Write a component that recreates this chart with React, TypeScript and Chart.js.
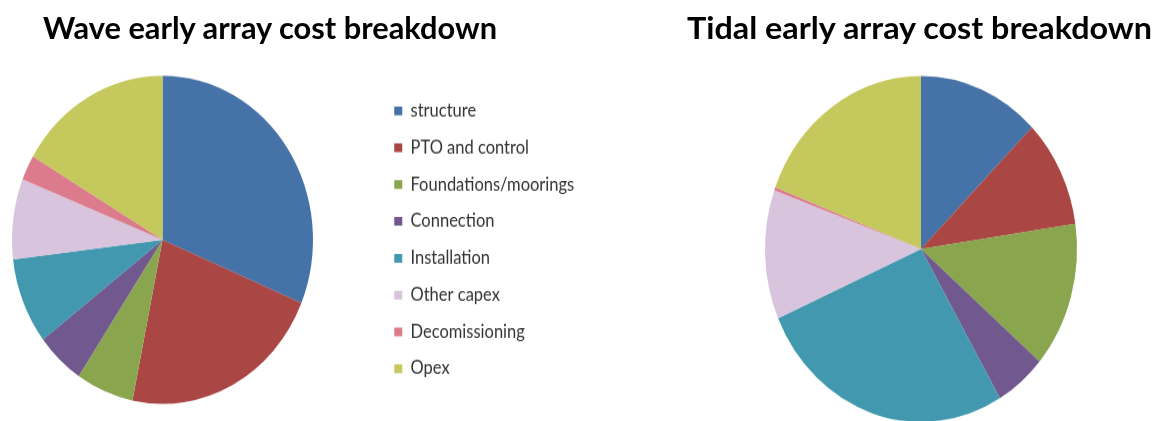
import React, { useEffect, useLayoutEffect, useRef } from 'react';
import { Chart, registerables } from 'chart.js';

Chart.register(...registerables);

const categories = [
  'structure',
  'PTO and control',
  'Foundations/moorings',
  'Connection',
  'Installation',
  'Other capex',
  'Decomissioning',
  'Opex',
];
const waveCost = [31.3, 21.9, 6.2, 5.2, 8.5, 7.9, 2.5, 16.5];
const tidalCost = [12.6, 10.1, 13.6, 5.3, 26.9, 12.1, 0.3, 19.2];
const sliceColors = ['#4572A7', '#AA4643', '#89A54E', '#71588F', '#4198AF', '#D8C4DD', '#DB7B8C', '#C5C85D'];
const waveTitle = 'Wave early array cost breakdown';
const tidalTitle = 'Tidal early array cost breakdown';

const LEGEND_FAMILY = 'Lato, "Open Sans", sans-serif';
const LEGEND_SIZE = 16.5;
const LEGEND_PAD = 17.26;
const LEGEND_BOX = 8;

type TitleProps = { text: string; left: number; top: number; width: number };

function FitTitle({ text, left, top, width }: TitleProps) {
  const ref = useRef<HTMLSpanElement>(null);
  useLayoutEffect(() => {
    const el = ref.current;
    if (!el) return;
    el.style.transform = 'none';
    const w = el.getBoundingClientRect().width;
    if (w > 0) el.style.transform = `scaleX(${width / w})`;
  }, [text, width]);
  return (
    <span
      ref={ref}
      style={{
        position: 'absolute',
        left,
        top,
        whiteSpace: 'nowrap',
        fontFamily: 'Lato, "Open Sans", sans-serif',
        fontWeight: 700,
        fontSize: 30,
        lineHeight: '30px',
        color: '#000',
        transformOrigin: 'left top',
      }}
    >
      {text}
    </span>
  );
}

type PieProps = {
  values: number[];
  left: number;
  width: number;
  height: number;
  stretch: number;
  padTop: number;
  areaRight: number;
  radius: number;
  showLegend: boolean;
};

function PieCanvas({ values, left, width, height, stretch, padTop, areaRight, radius, showLegend }: PieProps) {
  const ref = useRef<HTMLCanvasElement>(null);
  useEffect(() => {
    const canvas = ref.current;
    if (!canvas) return;
    let padRight = 0;
    if (showLegend) {
      const mctx = document.createElement('canvas').getContext('2d')!;
      mctx.font = `normal ${LEGEND_SIZE}px ${LEGEND_FAMILY}`;
      const maxText = Math.max(...categories.map((c) => mctx.measureText(c).width));
      const legendWidth = LEGEND_PAD + LEGEND_BOX + LEGEND_SIZE / 2 + maxText + 10;
      padRight = Math.max(width - areaRight - legendWidth, 0);
    } else {
      padRight = Math.max(width - areaRight, 0);
    }
    const chart = new Chart(canvas, {
      type: 'pie',
      data: {
        labels: categories,
        datasets: [
          {
            data: values,
            backgroundColor: sliceColors,
            borderWidth: 0,
            radius: radius,
          } as any,
        ],
      },
      options: {
        responsive: false,
        animation: false,
        devicePixelRatio: 1,
        layout: { padding: { top: padTop, left: 0, right: padRight, bottom: 0 } },
        plugins: {
          legend: {
            display: showLegend,
            position: 'right',
            align: 'center',
            labels: {
              boxWidth: LEGEND_BOX,
              boxHeight: LEGEND_BOX,
              padding: LEGEND_PAD,
              color: '#333333',
              font: { family: LEGEND_FAMILY, size: LEGEND_SIZE },
            },
          },
          tooltip: { enabled: false },
        },
      } as any,
    });
    return () => chart.destroy();
  }, []);
  return (
    <canvas
      ref={ref}
      width={width}
      height={height}
      style={{
        position: 'absolute',
        left,
        top: 0,
        width,
        height,
        transform: `scaleY(${stretch})`,
        transformOrigin: 'left top',
      }}
    />
  );
}

export default function App() {
  return (
    <div
      style={{
        position: 'absolute',
        left: 0,
        top: 0,
        width: 1163,
        height: 421,
        overflow: 'hidden',
        background: '#ffffff',
      }}
    >
      <PieCanvas
        values={waveCost}
        left={-52}
        width={700}
        height={386}
        stretch={1.09}
        padTop={54}
        areaRight={429}
        radius={150.5}
        showLegend={true}
      />
      <PieCanvas
        values={tidalCost}
        left={751}
        width={340}
        height={380}
        stretch={1.109}
        padTop={69}
        areaRight={340}
        radius={156}
        showLegend={false}
      />
      <FitTitle text={waveTitle} left={43} top={12} width={454} />
      <FitTitle text={tidalTitle} left={687} top={12} width={465} />
    </div>
  );
}
